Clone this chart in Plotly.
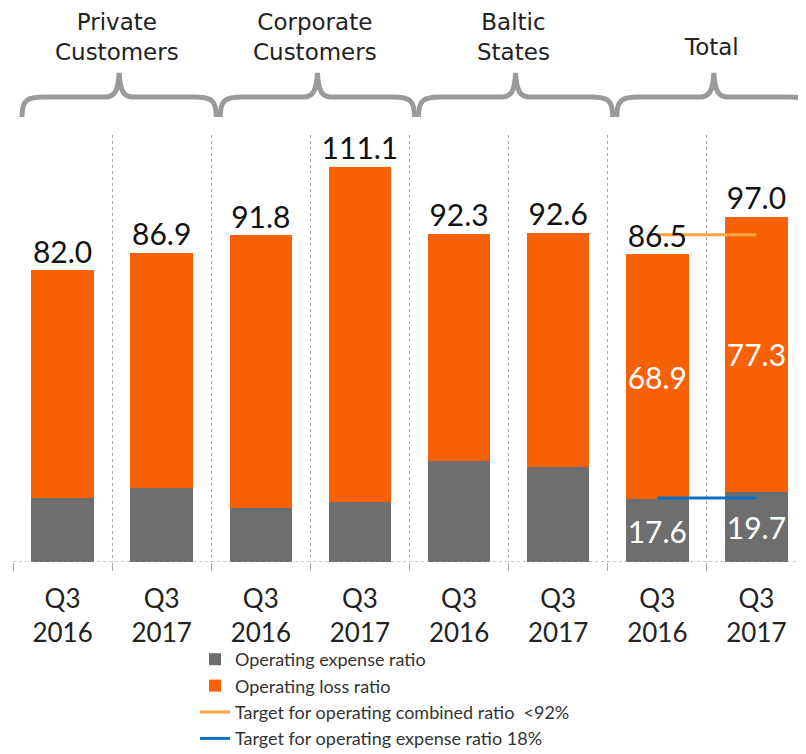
import plotly.graph_objects as go

categories = ["PC 2016", "PC 2017", "CC 2016", "CC 2017", "BS 2016", "BS 2017", "T 2016", "T 2017"]
tick_labels = ["Q3<br>2016", "Q3<br>2017"] * 4
groups = ["Private<br>Customers", "Corporate<br>Customers", "Baltic<br>States", "Total"]
expense_ratio = [18.1, 20.8, 15.2, 17.0, 28.3, 26.8, 17.6, 19.7]
loss_ratio = [63.9, 66.1, 76.6, 94.1, 64.0, 65.8, 68.9, 77.3]
combined_ratio = [82.0, 86.9, 91.8, 111.1, 92.3, 92.6, 86.5, 97.0]
expense_labels = ["", "", "", "", "", "", "17.6", "19.7"]
loss_labels = ["", "", "", "", "", "", "68.9", "77.3"]
target_combined_x = ["T 2016", "T 2017"]
target_combined = [92, 92]
target_expense_x = ["T 2016", "T 2017"]
target_expense = [18, 18]

GRAY = "#6E6E6E"
ORANGE = "#F76004"
NUMFONT = "Lato"

fig = go.Figure()
fig.add_trace(go.Bar(
    x=categories, y=expense_ratio, name="Operating expense ratio",
    marker=dict(color=GRAY, line=dict(width=0)),
    text=expense_labels, textposition="inside", insidetextanchor="middle",
    constraintext="none", textangle=0,
    textfont=dict(family=NUMFONT, size=30, color="white"),
    legendgroup="a", hoverinfo="skip",
))
fig.add_trace(go.Bar(
    x=categories, y=loss_ratio, name="Operating loss ratio",
    marker=dict(color=ORANGE, line=dict(width=0)),
    text=loss_labels, textposition="inside", insidetextanchor="middle",
    constraintext="none", textangle=0,
    textfont=dict(family=NUMFONT, size=30, color="white"),
    legendgroup="b", hoverinfo="skip",
))
fig.add_trace(go.Scatter(
    x=target_combined_x, y=target_combined, mode="lines",
    name="Target for operating combined ratio  <92%",
    line=dict(color="#FBA440", width=3), legendgroup="c", hoverinfo="skip",
))
fig.add_trace(go.Scatter(
    x=target_expense_x, y=target_expense, mode="lines",
    name="Target for operating expense ratio 18%",
    line=dict(color="#0A6FC2", width=3), legendgroup="d", hoverinfo="skip",
))
fig.add_trace(go.Scatter(
    x=categories, y=combined_ratio, mode="text",
    text=[f"{v:.1f}" for v in combined_ratio], textposition="top center",
    textfont=dict(family=NUMFONT, size=30, color="#111111"),
    showlegend=False, cliponaxis=False, hoverinfo="skip",
))

# page body has an 8px margin; size the figure so the plot lands where the reference has it
OFF = 8
W, H = 798, 746
ML, MR, MT, MB = 5, 0, 127, 192
PW = W - ML - MR
PH = H - MT - MB


def px(xp):
    return (xp - OFF - ML) / PW


def py(yp):
    return (H - MB - (yp - OFF)) / PH


shapes = []
cat_w = PW / 8
X0 = OFF + ML
for g in range(4):
    b0 = X0 + 2 * g * cat_w
    b1 = X0 + (2 * g + 2) * cat_w
    L = b0 + 9
    R = b1 + 5
    C = (L + R) / 2
    yE, yA, yT = 117, 97, 73
    pts = (
        f"M {px(L)},{py(yE)} "
        f"C {px(L)},{py(yA + 3)} {px(L + 5)},{py(yA)} {px(L + 22)},{py(yA)} "
        f"L {px(C - 14)},{py(yA)} "
        f"C {px(C - 5)},{py(yA)} {px(C - 1)},{py(yA - 5)} {px(C)},{py(yT)} "
        f"C {px(C + 1)},{py(yA - 5)} {px(C + 5)},{py(yA)} {px(C + 14)},{py(yA)} "
        f"L {px(R - 22)},{py(yA)} "
        f"C {px(R - 5)},{py(yA)} {px(R)},{py(yA + 3)} {px(R)},{py(yE)}"
    )
    shapes.append(dict(type="path", path=pts, xref="paper", yref="paper",
                       line=dict(color="#9A9A9A", width=5)))

shapes.append(dict(type="line", xref="paper", yref="y", x0=0, x1=1, y0=0, y1=0,
                   line=dict(color="#999999", width=1, dash="dot")))

annotations = []
for g, label in enumerate(groups):
    b0 = X0 + 2 * g * cat_w
    b1 = X0 + (2 * g + 2) * cat_w
    C = ((b0 + 9) + (b1 + 5)) / 2 - 2
    ycen = 37 if "<br>" in label else 47
    annotations.append(dict(
        text=label, x=px(C), y=py(ycen), xref="paper", yref="paper",
        xanchor="center", yanchor="middle", showarrow=False,
        font=dict(family="DejaVu Sans", size=23, color="#222222"),
    ))

fig.update_layout(
    width=W, height=H,
    margin=dict(l=ML, r=MR, t=MT, b=MB, autoexpand=False),
    barmode="stack", bargap=0.37,
    plot_bgcolor="white", paper_bgcolor="white",
    shapes=shapes, annotations=annotations,
    xaxis=dict(
        type="category", tickmode="array", tickvals=categories, ticktext=tick_labels,
        tickson="boundaries", showgrid=True, gridcolor="#AAAAAA", griddash="dot",
        gridwidth=1, ticks="outside", ticklen=8, tickcolor="#AAAAAA",
        tickfont=dict(family=NUMFONT, size=26, color="#222222"),
        ticklabelstandoff=19, showline=False, zeroline=False, automargin=False,
    ),
    yaxis=dict(range=[0, 120], visible=False, showgrid=False, zeroline=False),
    legend=dict(
        x=px(195), y=py(641), xanchor="left", yanchor="top",
        traceorder="grouped", tracegroupgap=0, itemwidth=30,
        font=dict(family=NUMFONT, size=18, color="#333333"),
        bgcolor="rgba(0,0,0,0)",
    ),
    showlegend=True,
)

fig.write_html("out.html")
